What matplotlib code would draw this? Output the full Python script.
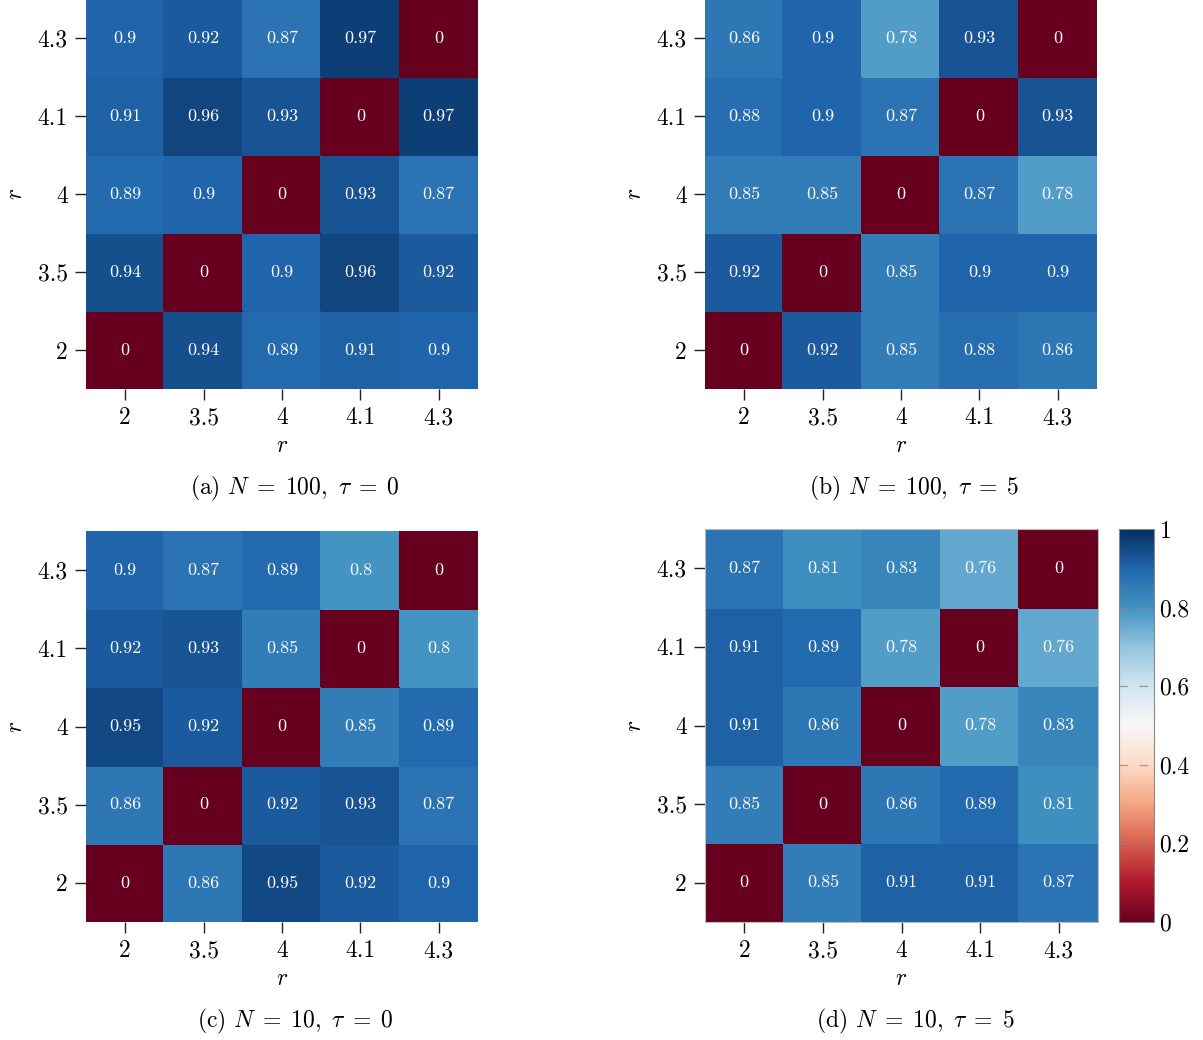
import numpy as np
import matplotlib
matplotlib.use("Agg")
import matplotlib.pyplot as plt

plt.rcParams['font.family'] = ['cmr10', 'DejaVu Serif']
plt.rcParams['mathtext.fontset'] = 'cm'
plt.rcParams['axes.unicode_minus'] = False

r_labels = ["2", "3.5", "4", "4.1", "4.3"]

# rows/columns ordered as r_labels (row 0 = r=2, bottom)
vals_a = [[0, 0.94, 0.89, 0.91, 0.90],
          [0.94, 0, 0.90, 0.96, 0.92],
          [0.89, 0.90, 0, 0.93, 0.87],
          [0.91, 0.96, 0.93, 0, 0.97],
          [0.90, 0.92, 0.87, 0.97, 0]]
vals_b = [[0, 0.92, 0.85, 0.88, 0.86],
          [0.92, 0, 0.85, 0.90, 0.90],
          [0.85, 0.85, 0, 0.87, 0.78],
          [0.88, 0.90, 0.87, 0, 0.93],
          [0.86, 0.90, 0.78, 0.93, 0]]
vals_c = [[0, 0.86, 0.95, 0.92, 0.90],
          [0.86, 0, 0.92, 0.93, 0.87],
          [0.95, 0.92, 0, 0.85, 0.89],
          [0.92, 0.93, 0.85, 0, 0.80],
          [0.90, 0.87, 0.89, 0.80, 0]]
vals_d = [[0, 0.85, 0.91, 0.91, 0.87],
          [0.85, 0, 0.86, 0.89, 0.81],
          [0.91, 0.86, 0, 0.78, 0.83],
          [0.91, 0.89, 0.78, 0, 0.76],
          [0.87, 0.81, 0.83, 0.76, 0]]

captions = [r"(a) $N\;=\;100,\ \tau\;=\;0$", r"(b) $N\;=\;100,\ \tau\;=\;5$",
            r"(c) $N\;=\;10,\ \tau\;=\;0$", r"(d) $N\;=\;10,\ \tau\;=\;5$"]

W, H = 1203, 1040
fig = plt.figure(figsize=(W / 100, H / 100), dpi=100)

def px_axes(x0, y0, x1, y1):
    return fig.add_axes([x0 / W, 1 - y1 / H, (x1 - x0) / W, (y1 - y0) / H])

boxes = [(86, -1, 478, 389), (705, -1, 1097, 389),
         (86, 531, 478, 922), (705, 529, 1098, 922)]
cap_pos = [(295, 488), (914, 488), (295, 1021), (915, 1021)]
datasets = [vals_a, vals_b, vals_c, vals_d]
framed = [False, False, False, True]
cmap = plt.get_cmap('RdBu')

mesh = None
for data, box, cap, cp, fr in zip(datasets, boxes, captions, cap_pos, framed):
    ax = px_axes(*box)
    arr = np.array(data, dtype=float)
    n = len(r_labels)
    mesh = ax.pcolormesh(np.arange(n + 1), np.arange(n + 1), arr, cmap=cmap,
                         vmin=0, vmax=1, edgecolors='face', linewidth=0.3)
    for i in range(n):
        for j in range(n):
            v = arr[i, j]
            txt = "0" if v == 0 else f"{v:g}"
            ax.text(j + 0.5, i + 0.5, txt, ha='center', va='center',
                    color='white', fontsize=13)
    ax.set_xlim(0, n)
    ax.set_ylim(0, n)
    ax.set_xticks(np.arange(n) + 0.5)
    ax.set_yticks(np.arange(n) + 0.5)
    ax.set_xticklabels(r_labels, fontsize=17)
    ax.set_yticklabels(r_labels, fontsize=17)
    ax.tick_params(length=8, width=1, color='#222222', pad=5)
    ax.set_xlabel(r"$r$", fontsize=17, labelpad=4)
    ax.set_ylabel(r"$r$", fontsize=17, labelpad=8)
    for s in ax.spines.values():
        if fr:
            s.set_color('#bbbbbb')
            s.set_linewidth(0.8)
        else:
            s.set_visible(False)
    fig.text(cp[0] / W, 1 - cp[1] / H, cap, ha='center', va='center',
             fontsize=17)

cax = px_axes(1119, 529, 1154, 922)
cb = fig.colorbar(mesh, cax=cax)
cb.set_ticks([0, 0.2, 0.4, 0.6, 0.8, 1.0])
cb.set_ticklabels(["0", "0.2", "0.4", "0.6", "0.8", "1"])
cax.tick_params(length=0, labelsize=17, pad=4)
cb.outline.set_edgecolor('#888888')
cb.outline.set_linewidth(0.8)
for t in [0.2, 0.4, 0.6, 0.8]:
    cax.axhline(t, color='#888888', lw=0.9, dashes=(7, 9), alpha=0.8)

fig.savefig("out.png", dpi=100)
